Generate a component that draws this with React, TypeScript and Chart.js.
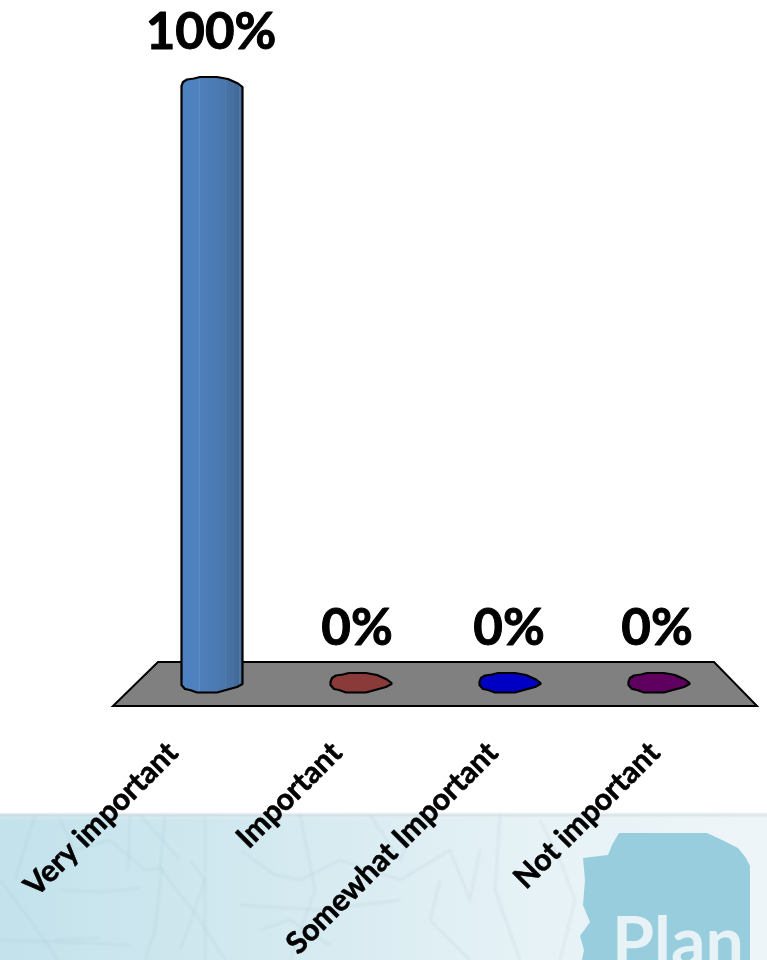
import React, { useEffect, useRef } from "react";
import { Chart, registerables } from "chart.js";

Chart.register(...registerables);

const categories = ["Very important", "Important", "Somewhat Important", "Not important"];
const responses = [100, 0, 0, 0];
const barColors = ["#4a7ebb", "#8b3a3a", "#0000c4", "#5f0060"];

const W = 767;
const H = 960;
const FONT = "Lato, 'Open Sans', sans-serif";

// column outline, relative to the centre of a column (dx, dy)
const topCap: [number, number][] = [[-30.5, -1], [-29, -5], [-25, -7.5], [-18, -8.5], [-12, -10], [5, -10], [16, -8], [26, -3.5], [30.5, 0]];
const bottomCap: [number, number][] = [[30.5, 1], [25, 4], [14, 7], [5, 9.5], [-15, 9.5], [-22, 7], [-27, 6], [-30.5, 2]];
const labelEndOffsets: [number, number][] = [[-38, 66], [-23, 66], [-16, 66], [-3, 66]];
const valueLabelOffsets = [-1, -4, -1, -2];

function tracePath(ctx: CanvasRenderingContext2D, pts: [number, number][]) {
  pts.forEach(([x, y], i) => (i ? ctx.lineTo(x, y) : ctx.moveTo(x, y)));
}

const backdrop = {
  id: "backdrop",
  beforeDraw(chart: any) {
    const { ctx, chartArea: a } = chart;
    ctx.save();
    ctx.fillStyle = "#ffffff";
    ctx.fillRect(0, 0, W, H);

    // map band along the foot of the slide
    const top = 814;
    const g = ctx.createLinearGradient(0, 0, W, 0);
    g.addColorStop(0, "#c3e2ec");
    g.addColorStop(0.35, "#d3e9f0");
    g.addColorStop(0.7, "#e6f2f6");
    g.addColorStop(1, "#eef5f8");
    ctx.fillStyle = g;
    ctx.fillRect(0, top, W, H - top);
    const fade = ctx.createLinearGradient(0, top - 2, 0, top + 6);
    fade.addColorStop(0, "rgba(255,255,255,1)");
    fade.addColorStop(0.4, "rgba(205,215,220,0.55)");
    fade.addColorStop(1, "rgba(255,255,255,0)");
    ctx.fillStyle = fade;
    ctx.fillRect(0, top - 2, W, 8);

    // faint map lines
    ctx.filter = "blur(0.9px)";
    ctx.strokeStyle = "rgba(170,195,205,0.3)";
    ctx.lineWidth = 1.5;
    const lines: [number, number][][] = [
      [[0, 880], [30, 920], [58, 960]],
      [[35, 815], [15, 880]],
      [[110, 840], [145, 870], [162, 868], [155, 930], [145, 960]],
      [[165, 815], [160, 868], [200, 920], [225, 960]],
      [[205, 815], [205, 960]],
      [[240, 850], [275, 875], [300, 880], [340, 860], [400, 880], [450, 850], [470, 900], [480, 850]],
      [[300, 815], [315, 890], [290, 960]],
      [[140, 815], [180, 860]],
      [[440, 880], [430, 920], [470, 960]],
      [[500, 815], [495, 890], [520, 960]],
      [[0, 940], [130, 945]],
      [[240, 905], [320, 910], [400, 900]],
      [[60, 820], [75, 850], [110, 840]],
      [[130, 815], [128, 870]],
      [[190, 860], [205, 880], [180, 950]],
      [[370, 815], [400, 860], [420, 815]],
      [[60, 890], [105, 892], [140, 888]],
      [[55, 940], [100, 938]],
      [[260, 930], [290, 920], [330, 945]],
      [[540, 820], [560, 860], [575, 900], [560, 960]],
    ];
    lines.forEach((l) => {
      ctx.beginPath();
      tracePath(ctx, l);
      ctx.stroke();
    });
    ctx.filter = "none";

    // logo shape
    ctx.fillStyle = "#98cddd";
    ctx.beginPath();
    tracePath(ctx, [[619, 833], [707, 833], [722, 840], [738, 848], [746, 858], [750, 866], [750, 960], [582, 960], [584, 950], [580, 936], [590, 922], [583, 905], [585, 880], [583, 858], [608, 855], [612, 845]]);
    ctx.closePath();
    ctx.fill();
    ctx.fillStyle = "#e6f2f5";
    ctx.font = `700 68px ${FONT}`;
    ctx.textAlign = "left";
    ctx.textBaseline = "alphabetic";
    ctx.fillText("Plan", 612, 966);

    // floor
    ctx.beginPath();
    tracePath(ctx, [[158, a.bottom - 21], [714, a.bottom - 21], [757, a.bottom + 23], [113, a.bottom + 23]]);
    ctx.closePath();
    ctx.fillStyle = "#808080";
    ctx.fill();
    ctx.strokeStyle = "#000000";
    ctx.lineWidth = 2;
    ctx.stroke();
    ctx.restore();
  },
};

const columns = {
  id: "columns",
  beforeDatasetDraw(chart: any, args: any) {
    const { ctx } = chart;
    const meta = chart.getDatasetMeta(args.index);
    const ds = chart.data.datasets[args.index];
    meta.data.forEach((bar: any, i: number) => {
      const cx = bar.x;
      const outline: [number, number][] = [
        ...topCap.map(([dx, dy]): [number, number] => [cx + dx, bar.y + dy]),
        ...bottomCap.map(([dx, dy]): [number, number] => [cx + dx, bar.base + dy]),
      ];
      ctx.save();
      ctx.beginPath();
      tracePath(ctx, outline);
      ctx.closePath();
      if (responses[i] > 0) {
        const g = ctx.createLinearGradient(cx - 30, 0, cx + 30, 0);
        const facets: [number, string][] = [
          [0, "#4c80bf"], [0.28, "#4f82bf"], [0.29, "#5e8fc6"], [0.3, "#4e7fba"], [0.5, "#4c7cb5"], [0.62, "#4b78ae"],
          [0.72, "#4a76aa"], [0.73, "#5c83b2"], [0.74, "#4873a6"], [0.84, "#456f a0".replace(" ", "")], [0.85, "#5a7fa9"],
          [0.86, "#446d9e"], [0.95, "#416a9b"], [0.96, "#567aa6"], [1, "#3f6697"],
        ];
        facets.forEach(([p, c]) => g.addColorStop(p, c));
        ctx.fillStyle = g;
      } else {
        ctx.fillStyle = ds.backgroundColor[i];
      }
      ctx.fill();
      ctx.strokeStyle = "#000000";
      ctx.lineWidth = 2.2;
      ctx.lineJoin = "round";
      ctx.stroke();
      ctx.restore();
    });
    return false;
  },
};

const textLabels = {
  id: "textLabels",
  afterDatasetsDraw(chart: any) {
    const { ctx, scales } = chart;
    const meta = chart.getDatasetMeta(0);
    ctx.save();
    ctx.fillStyle = "#000000";
    ctx.strokeStyle = "#000000";
    ctx.textBaseline = "alphabetic";
    ctx.lineJoin = "round";

    ctx.font = `700 51px ${FONT}`;
    ctx.lineWidth = 1;
    ctx.textAlign = "center";
    meta.data.forEach((bar: any, i: number) => {
      const x = bar.x + valueLabelOffsets[i];
      const y = bar.y - 38;
      ctx.fillText(`${responses[i]}%`, x, y);
      ctx.strokeText(`${responses[i]}%`, x, y);
    });

    ctx.font = `700 30.2px ${FONT}`;
    ctx.lineWidth = 0.6;
    ctx.textAlign = "right";
    categories.forEach((label, i) => {
      const x = scales.x.getPixelForValue(i) + labelEndOffsets[i][0];
      const y = scales.y.getPixelForValue(0) + labelEndOffsets[i][1];
      ctx.save();
      ctx.translate(x, y);
      ctx.rotate(-Math.PI / 4);
      ctx.fillText(label, 0, 8);
      ctx.strokeText(label, 0, 8);
      ctx.restore();
    });
    ctx.restore();
  },
};

export default function App() {
  const ref = useRef<HTMLCanvasElement>(null);
  useEffect(() => {
    const chart = new Chart(ref.current!, {
      type: "bar",
      data: {
        labels: categories,
        datasets: [{ data: responses, backgroundColor: barColors, barPercentage: 0.4, categoryPercentage: 1 }],
      },
      options: {
        animation: false,
        responsive: false,
        devicePixelRatio: 1,
        layout: { padding: { left: 137.5, right: 33.5, top: 87, bottom: 277 } },
        plugins: { legend: { display: false }, tooltip: { enabled: false } },
        scales: {
          x: { display: false },
          y: { display: false, min: 0, max: 100 },
        },
      },
      plugins: [backdrop, columns, textLabels],
    } as any);
    return () => chart.destroy();
  }, []);
  return (
    <div style={{ position: "absolute", left: 0, top: 0, width: W, height: H, overflow: "hidden" }}>
      <canvas ref={ref} width={W} height={H} style={{ display: "block" }} />
    </div>
  );
}
